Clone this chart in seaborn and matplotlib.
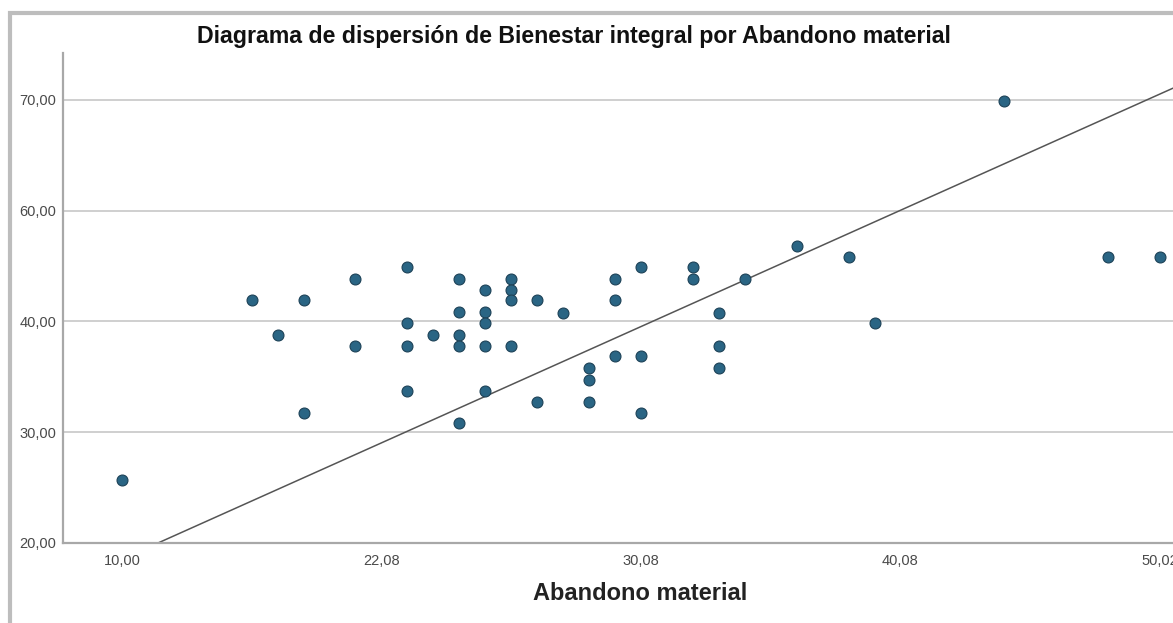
import matplotlib
matplotlib.use("Agg")
import matplotlib.pyplot as plt
from matplotlib.patches import Rectangle
import seaborn as sns
import pandas as pd

# ---- data (in the chart's own axis units) ----
abandono = [10, 15, 16, 17, 17, 19, 19, 21, 21, 21, 21, 22,
            23, 23, 23, 23, 23, 24, 24, 24, 24, 24, 25, 25, 25, 25,
            26, 26, 27, 28, 28, 28, 29, 29, 29, 30, 30, 30,
            32, 32, 33, 33, 33, 34, 36, 38, 39, 44, 48, 50]
bienestar = [25.7, 41.9, 38.8, 41.9, 31.7, 43.8, 37.8, 44.9, 39.9, 37.8, 33.7, 38.8,
             43.8, 40.9, 38.8, 37.8, 30.8, 42.8, 40.9, 39.9, 37.8, 33.7, 43.8, 42.8, 41.9, 37.8,
             41.9, 32.7, 40.8, 35.8, 34.7, 32.7, 43.8, 41.9, 36.9, 44.9, 36.9, 31.7,
             44.9, 43.8, 40.8, 37.8, 35.8, 43.8, 46.8, 45.8, 39.9, 59.9, 45.8, 45.8]

fit_intercept = 8.04
fit_slope = 1.05

x_tick_values = [10, 20, 30, 40, 50]
x_tick_labels = ["10,00", "22,08", "30,08", "40,08", "50,02"]
y_tick_values = [20, 30, 40, 50, 60]
y_tick_labels = ["20,00", "30,00", "40,00", "60,00", "70,00"]

title = "Diagrama de dispersión de Bienestar integral por Abandono material"
x_label = "Abandono material"

df = pd.DataFrame({"Abandono material": abandono, "Bienestar integral": bienestar})

sns.set_theme(style="white")
plt.rcParams["font.family"] = ["Liberation Sans", "DejaVu Sans"]

W, H = 1173, 623
fig = plt.figure(figsize=(W / 100, H / 100), dpi=100)
fig.patch.set_facecolor("white")

ax = fig.add_axes([63 / W, (H - 543) / H, (W - 63) / W, (543 - 53) / H])
ax.set_facecolor("white")

sns.scatterplot(data=df, x="Abandono material", y="Bienestar integral", ax=ax,
                s=62, color="#2a6584", edgecolor="#1d4257", linewidth=0.8,
                zorder=3, legend=False)

ax.axline((0, fit_intercept), slope=fit_slope, color="#555555", lw=1.1, zorder=2)

ax.set_xlim(7.73, 50.5)
ax.set_ylim(20, 64.24)

ax.set_xticks(x_tick_values)
ax.set_xticklabels(x_tick_labels)
ax.set_yticks(y_tick_values)
ax.set_yticklabels(y_tick_labels)
ax.tick_params(axis="both", length=0, labelsize=10.5, labelcolor="#4a4a4a")
ax.tick_params(axis="x", pad=8)
ax.tick_params(axis="y", pad=5)

ax.yaxis.grid(True, color="#cfcfcf", lw=1.4)
ax.xaxis.grid(False)
ax.set_axisbelow(True)

for side in ["top", "right"]:
    ax.spines[side].set_visible(False)
for side in ["left", "bottom"]:
    ax.spines[side].set_color("#a8a8a8")
    ax.spines[side].set_linewidth(1.6)

ax.set_xlabel(x_label, fontsize=17, fontweight="bold", color="#222222")
ax.xaxis.set_label_coords((640 - 63) / (W - 63), -(594 - 543) / (543 - 53))
ax.xaxis.label.set_va("center")
ax.set_ylabel("")

fig.text(574 / W, 1 - 37 / H, title, ha="center", va="center",
         fontsize=16.7, fontweight="bold", color="#111111")

# outer document frame
fig.add_artist(Rectangle((9.5 / W, -0.1), 1.2, 1 - 13 / H + 0.1, transform=fig.transFigure,
                         fill=False, edgecolor="#bdbdbd", lw=3, zorder=10))

fig.savefig("out.png", dpi=100)
